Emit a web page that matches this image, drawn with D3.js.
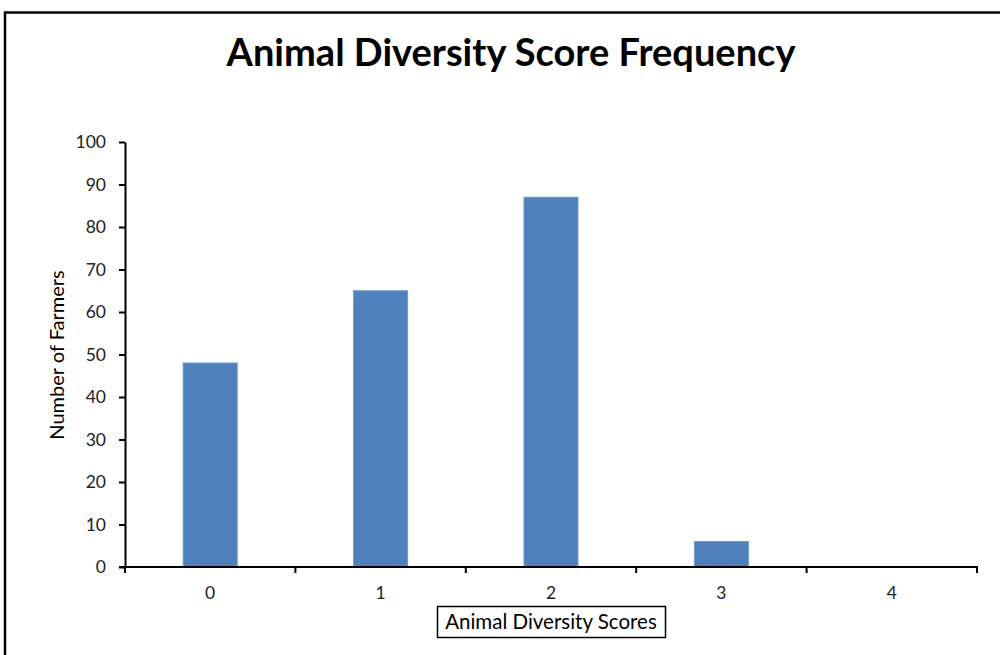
<!DOCTYPE html>
<html>
<head>
<meta charset="utf-8">
<script src="https://cdn.jsdelivr.net/npm/d3@7"></script>
<style>
  html, body { margin: 0; padding: 0; background: #fff; }
  svg { display: block; }
</style>
</head>
<body>
<svg id="chart" width="1000" height="655"></svg>
<script>
// Frequency of animal diversity scores among surveyed farmers
const scores = ["0", "1", "2", "3", "4"];
const farmers = [48, 65, 87, 6, 0];
const yTicks = [0, 10, 20, 30, 40, 50, 60, 70, 80, 90, 100];

const titleText = "Animal Diversity Score Frequency";
const xTitle = "Animal Diversity Scores";
const yTitle = "Number of Farmers";

const svg = d3.select("#chart");
const font = "Lato, 'Open Sans', sans-serif";

// outer chart frame
svg.append("rect")
  .attr("x", 5).attr("y", 12.5)
  .attr("width", 1010).attr("height", 660)
  .attr("fill", "#fff").attr("stroke", "#000").attr("stroke-width", 2.5);

const plot = { left: 125, right: 977, top: 142, bottom: 567 };

const xPos = d3.scaleBand().domain(scores).range([plot.left, plot.right]);
const barW = xPos.bandwidth() * 0.317;

const y = d3.scaleLinear().domain([0, 100]).range([plot.bottom, plot.top]);

// bars
svg.append("g").selectAll("rect")
  .data(scores.map((s, i) => ({ s, v: farmers[i] })))
  .join("rect")
  .attr("x", d => xPos(d.s) + xPos.bandwidth() / 2 - barW / 2)
  .attr("width", barW)
  .attr("y", d => y(d.v))
  .attr("height", d => y(0) - y(d.v))
  .attr("fill", "#4F81BD")
  .attr("stroke", "#6f99cc")
  .attr("stroke-width", d => d.v > 0 ? 1 : 0);

// y axis
const yAxis = svg.append("g")
  .attr("transform", `translate(${plot.left},0)`)
  .call(d3.axisLeft(y).tickValues(yTicks).tickSize(6).tickPadding(13).tickSizeOuter(0));
yAxis.select(".domain").attr("stroke-width", 2);
yAxis.selectAll(".tick line").attr("stroke-width", 2);
yAxis.selectAll(".tick text")
  .attr("font-family", font).attr("font-size", 17.5).attr("fill", "#222");

// x axis: ticks at category boundaries
const xAxis = svg.append("g")
  .attr("transform", `translate(0,${plot.bottom})`);
xAxis.append("line")
  .attr("x1", plot.left - 6).attr("x2", plot.right + 1)
  .attr("stroke", "#000").attr("stroke-width", 2);
const bounds = scores.map(s => xPos(s)).concat([plot.right]);
xAxis.selectAll("line.tk").data(bounds).join("line")
  .attr("class", "tk")
  .attr("x1", d => d).attr("x2", d => d)
  .attr("y1", 0).attr("y2", 6)
  .attr("stroke", "#000").attr("stroke-width", 2);
xAxis.selectAll("text").data(scores).join("text")
  .attr("x", d => xPos(d) + xPos.bandwidth() / 2)
  .attr("y", 32)
  .attr("text-anchor", "middle")
  .attr("font-family", font).attr("font-size", 17.5).attr("fill", "#222")
  .text(d => d);

// title
svg.append("text")
  .attr("x", 511).attr("y", 66)
  .attr("text-anchor", "middle")
  .attr("font-family", font).attr("font-weight", "bold").attr("font-size", 38)
  .attr("fill", "#000")
  .text(titleText);

// y axis title
svg.append("text")
  .attr("transform", "translate(64,355) rotate(-90)")
  .attr("text-anchor", "middle")
  .attr("font-family", font).attr("font-size", 20).attr("fill", "#000")
  .text(yTitle);

// x axis title in a box
svg.append("rect")
  .attr("x", 437.5).attr("y", 606.5).attr("width", 228).attr("height", 31)
  .attr("fill", "#fff").attr("stroke", "#000").attr("stroke-width", 1.5);
svg.append("text")
  .attr("x", 551).attr("y", 629)
  .attr("text-anchor", "middle")
  .attr("font-family", font).attr("font-size", 20.5).attr("fill", "#000")
  .text(xTitle);
</script>
</body>
</html>
